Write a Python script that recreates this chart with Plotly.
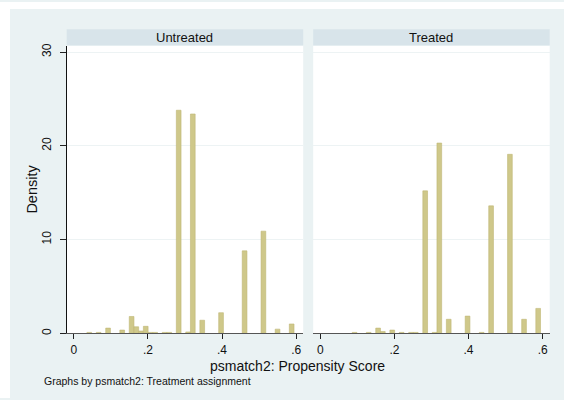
import plotly.graph_objects as go

# ---- data ----
bin_width = 0.0127
untreated_mid = [0.0419, 0.0672, 0.0926, 0.1307, 0.1561, 0.1688, 0.1815, 0.1942,
                 0.2069, 0.2196, 0.2450, 0.2577, 0.2831, 0.3085, 0.3212, 0.3466,
                 0.3974, 0.4609, 0.5117, 0.5498, 0.5879]
untreated_density = [0.1, 0.1, 0.56, 0.35, 1.8, 0.7, 0.25, 0.75,
                     0.1, 0.1, 0.1, 0.1, 23.8, 0.15, 23.4, 1.4,
                     2.2, 8.8, 10.9, 0.45, 1.0]
treated_mid = [0.0926, 0.1307, 0.1561, 0.1688, 0.1942, 0.2196, 0.2450, 0.2577,
               0.2831, 0.3085, 0.3212, 0.3466, 0.3974, 0.4355, 0.4609, 0.5117,
               0.5498, 0.5879]
treated_density = [0.1, 0.1, 0.56, 0.2, 0.35, 0.1, 0.1, 0.1,
                   15.2, 0.1, 20.3, 1.5, 1.84, 0.1, 13.6, 19.1,
                   1.5, 2.66]
panel_titles = ["Untreated", "Treated"]
x_tickvals = [0, 0.2, 0.4, 0.6]
x_ticktext = ["0", ".2", ".4", ".6"]
y_tickvals = [0, 10, 20, 30]
y_ticktext = ["0", "10", "20", "30"]
x_title = "psmatch2: Propensity Score"
y_title = "Density"
note = "Graphs by psmatch2: Treatment assignment"

# ---- styling / geometry ----
W, H = 564, 400
FONT = "Liberation Sans, Arial, sans-serif"
BG = "#eaf2f3"
STRIP = "#d8e4ea"
BAR_FILL = "#cfc88a"
BAR_LINE = "#bfb775"
GRID = "#edf3f4"


def fx(p):
    return p / W


def fy(p):
    return 1 - p / H


left_dom = [fx(66.7), fx(303.2)]
right_dom = [fx(313.2), fx(549.7)]
y_dom = [fy(334.7), fy(44)]
x_range = [-0.019, 0.619]
y_range = [0, 30.7]

fig = go.Figure()
fig.add_trace(go.Bar(x=untreated_mid, y=untreated_density, width=bin_width,
                     marker=dict(color=BAR_FILL, line=dict(color=BAR_LINE, width=0.6)),
                     xaxis="x", yaxis="y", showlegend=False, hoverinfo="x+y"))
fig.add_trace(go.Bar(x=treated_mid, y=treated_density, width=bin_width,
                     marker=dict(color=BAR_FILL, line=dict(color=BAR_LINE, width=0.6)),
                     xaxis="x2", yaxis="y2", showlegend=False, hoverinfo="x+y"))

xax = dict(range=x_range, tickvals=x_tickvals, ticktext=x_ticktext,
           ticks="outside", ticklen=5, tickcolor="#222", tickwidth=1,
           showline=True, linecolor="#555", linewidth=1,
           showgrid=False, zeroline=False,
           tickfont=dict(family=FONT, size=12, color="#111"))

fig.update_layout(
    width=W, height=H,
    margin=dict(l=0, r=0, t=0, b=0),
    paper_bgcolor=BG, plot_bgcolor="white",
    font=dict(family=FONT, color="#111"),
    barmode="overlay",
    xaxis=dict(domain=left_dom, anchor="y", **xax),
    xaxis2=dict(domain=right_dom, anchor="y2", **xax),
    yaxis=dict(domain=y_dom, anchor="x", range=y_range,
               tickvals=y_tickvals, ticktext=y_ticktext, tickangle=-90,
               ticks="outside", ticklen=6, tickcolor="#222",
               ticklabelstandoff=4,
               showline=True, linecolor="#111", linewidth=1,
               showgrid=True, gridcolor=GRID, gridwidth=1, zeroline=False,
               tickfont=dict(family=FONT, size=12, color="#111")),
    yaxis2=dict(domain=y_dom, anchor="x2", range=y_range,
                tickvals=y_tickvals, showticklabels=False, ticks="",
                showline=False, showgrid=True, gridcolor=GRID, gridwidth=1,
                zeroline=False),
)

shapes = [
    # white margins outside the Stata graph region
    dict(type="rect", xref="paper", yref="paper", x0=0, x1=1, y0=fy(7), y1=1,
         fillcolor="white", line=dict(width=0), layer="below"),
    dict(type="rect", xref="paper", yref="paper", x0=0, x1=fx(10), y0=0, y1=1,
         fillcolor="white", line=dict(width=0), layer="below"),
]
annotations = []
for dom, title in zip([left_dom, right_dom], panel_titles):
    shapes.append(dict(type="rect", xref="paper", yref="paper",
                       x0=dom[0], x1=dom[1], y0=fy(44), y1=fy(27.5),
                       fillcolor=STRIP, line=dict(width=0), layer="below"))
    annotations.append(dict(text=title, xref="paper", yref="paper",
                            x=(dom[0] + dom[1]) / 2, y=fy(35.5),
                            xanchor="center", yanchor="middle", showarrow=False,
                            font=dict(family=FONT, size=13, color="#111")))

annotations.append(dict(text=y_title, xref="paper", yref="paper",
                        x=fx(32), y=fy(189.5), textangle=-90,
                        xanchor="center", yanchor="middle", showarrow=False,
                        font=dict(family=FONT, size=14.5, color="#111")))
annotations.append(dict(text=x_title, xref="paper", yref="paper",
                        x=fx(297), y=fy(368), xanchor="center", yanchor="middle",
                        showarrow=False,
                        font=dict(family=FONT, size=14, color="#111")))
annotations.append(dict(text=note, xref="paper", yref="paper",
                        x=fx(42), y=fy(383), xanchor="left", yanchor="middle",
                        showarrow=False,
                        font=dict(family=FONT, size=10.5, color="#111")))

fig.update_layout(shapes=shapes, annotations=annotations)
fig.write_html("out.html", config={"displayModeBar": False},
               post_script="document.body.style.margin='0';document.body.style.overflow='hidden';")
